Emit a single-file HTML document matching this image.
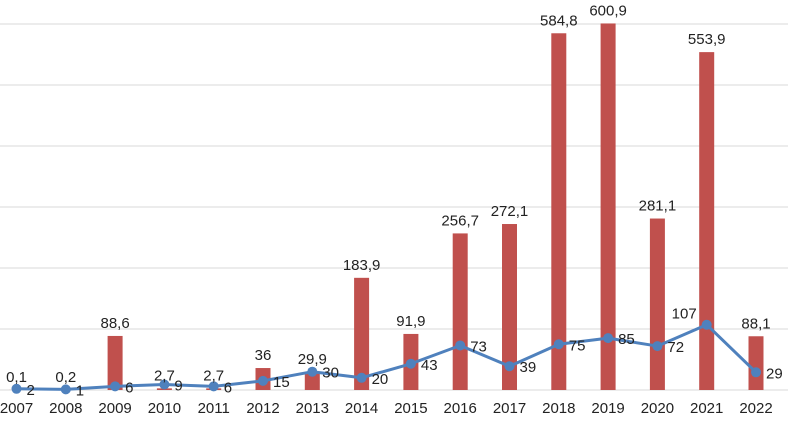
<!DOCTYPE html>
<html><head><meta charset="utf-8"><style>
html,body{margin:0;padding:0;background:#fff;}
svg text{font-family:"Liberation Sans",sans-serif;font-size:15px;fill:#222;}
</style></head><body>
<svg id="chart" width="788" height="418" xmlns="http://www.w3.org/2000/svg">
<g id="grid"></g><g id="bars"></g><g id="line"></g><g id="labels"></g>
</svg>
<script>
const years=["2007","2008","2009","2010","2011","2012","2013","2014","2015","2016","2017","2018","2019","2020","2021","2022"];
const barValues=[0.1,0.2,88.6,2.7,2.7,36,29.9,183.9,91.9,256.7,272.1,584.8,600.9,281.1,553.9,88.1];
const barLabels=["0,1","0,2","88,6","2,7","2,7","36","29,9","183,9","91,9","256,7","272,1","584,8","600,9","281,1","553,9","88,1"];
const lineValues=[2,1,6,9,6,15,30,20,43,73,39,75,85,72,107,29];
const gridTicks=[0,100,200,300,400,500,600];
const NS="http://www.w3.org/2000/svg";
function x(i){return 16.5+i*49.3;}
function y(v){return 390-v*0.61;}
function mk(tag,attrs,parent){const e=document.createElementNS(NS,tag);for(const k in attrs)e.setAttribute(k,attrs[k]);document.getElementById(parent).appendChild(e);return e;}
gridTicks.forEach(t=>{
  const l=mk('line',{x1:0,x2:788,y1:y(t),y2:y(t),stroke:'#d9d9d9','stroke-width':1},'grid');
  
  
});
years.forEach((yr,i)=>{
  const b=mk('rect',{x:x(i)-7.5,y:y(barValues[i]),width:15,height:390-y(barValues[i]),fill:'#c0504d'},'bars');
  
  
  const t=mk('text',{x:x(i),y:y(barValues[i])-8,'text-anchor':'middle'},'labels');
  t.textContent=barLabels[i];
  
  
  const xl=mk('text',{x:x(i),y:413,'text-anchor':'middle'},'labels');
  xl.textContent=yr;
  
  
});
const pts=lineValues.map((v,i)=>x(i)+','+y(v)).join(' ');
const pl=mk('polyline',{points:pts,fill:'none',stroke:'#4f81bd','stroke-width':3,'stroke-linejoin':'round'},'line');


lineValues.forEach((v,i)=>{
  const c=mk('circle',{cx:x(i),cy:y(v),r:5,fill:'#4f81bd'},'line');
  
  
  const isMax=v===Math.max(...lineValues);
  const t=mk('text',isMax?{x:x(i)-10,y:y(v)-6,'text-anchor':'end'}:{x:x(i)+10,y:y(v)+6},'labels');
  t.textContent=String(v);
  
  
});
</script>
</body></html>
